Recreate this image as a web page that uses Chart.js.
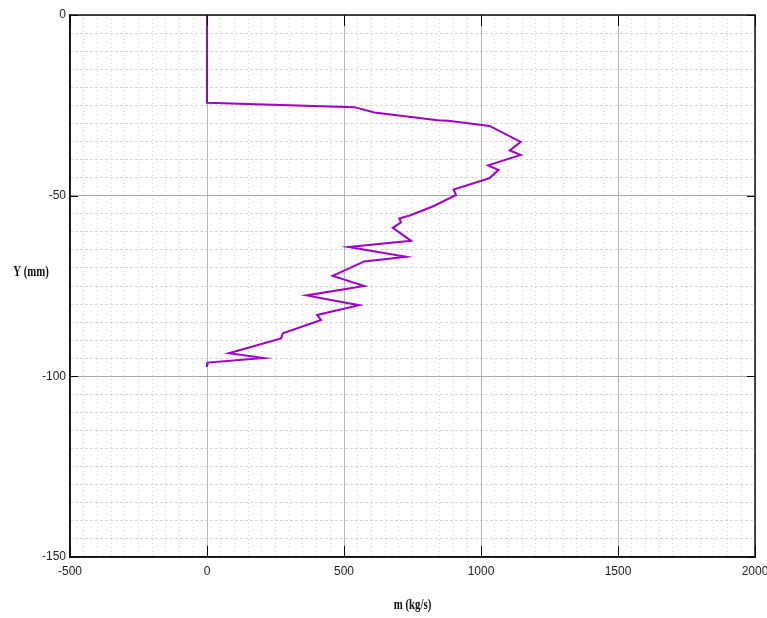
<!DOCTYPE html>
<html>
<head>
<meta charset="utf-8">
<script src="https://cdn.jsdelivr.net/npm/chart.js@4/dist/chart.umd.min.js"></script>
<style>
  html, body { margin: 0; padding: 0; background: #ffffff; }
  #wrap { width: 767px; height: 618px; }
</style>
</head>
<body>
<div id="wrap"><canvas id="c" width="767" height="618"></canvas></div>
<script>
// Mass flow rate m (kg/s) versus depth Y (mm)
const mValues = [0, 0, 538, 611, 842, 880, 1031, 1145, 1105, 1145, 1026, 1064, 1030, 900, 909, 824, 740, 702, 708, 678, 745, 517, 727, 574, 459, 574, 363, 555, 402, 416, 277, 270, 80, 207, 3, 0];
const yValues = [0, -24.3, -25.5, -27.0, -29.1, -29.3, -30.7, -35.1, -37.5, -38.7, -41.6, -42.9, -45.2, -48.3, -49.8, -53.0, -55.5, -56.3, -57.4, -58.9, -62.5, -64.2, -66.9, -68.2, -72.2, -75.0, -77.6, -80.3, -83.0, -84.4, -88.1, -89.5, -93.6, -94.9, -96.2, -97.4];

const xRange = [-500, 2000];
const yRange = [-150, 0];
const xMajorStep = 500, xMinorStep = 50;
const yMajorStep = 50, yMinorStep = 5;
const xTitle = 'm (kg/s)';
const yTitle = 'Y (mm)';

const points = mValues.map((v, i) => ({ x: v, y: yValues[i] }));

const framePlugin = {
  id: 'frame',
  afterDraw(chart) {
    const ctx = chart.ctx;
    const a = chart.chartArea;
    const xs = chart.scales.x, ys = chart.scales.y;
    ctx.save();
    // inner tick marks
    ctx.strokeStyle = '#000';
    ctx.lineWidth = 1;
    ctx.beginPath();
    for (let v = xRange[0]; v <= xRange[1]; v += xMajorStep) {
      const px = Math.round(xs.getPixelForValue(v)) + 0.5;
      ctx.moveTo(px, a.bottom); ctx.lineTo(px, a.bottom - 11);
      ctx.moveTo(px, a.top); ctx.lineTo(px, a.top + 11);
    }
    for (let v = yRange[0]; v <= yRange[1]; v += yMajorStep) {
      const py = Math.round(ys.getPixelForValue(v)) + 0.5;
      ctx.moveTo(a.left, py); ctx.lineTo(a.left + 8, py);
      ctx.moveTo(a.right, py); ctx.lineTo(a.right - 8, py);
    }
    ctx.stroke();
    // frame
    ctx.lineWidth = 1.5;
    ctx.strokeStyle = '#111';
    ctx.strokeRect(a.left, a.top, a.right - a.left, a.bottom - a.top);
    // axis titles (horizontal, condensed serif)
    ctx.fillStyle = '#111';
    ctx.font = 'bold 15px "Liberation Serif"';
    ctx.textAlign = 'center';
    ctx.textBaseline = 'middle';
    ctx.save();
    ctx.translate((a.left + a.right) / 2, 605);
    ctx.scale(0.72, 1);
    ctx.fillText(xTitle, 0, 0);
    ctx.restore();
    ctx.save();
    ctx.translate(31, 272);
    ctx.scale(0.72, 1);
    ctx.fillText(yTitle, 0, 0);
    ctx.restore();
    ctx.restore();
  }
};

const plainLabel = v => String(v);

new Chart(document.getElementById('c'), {
  type: 'scatter',
  data: {
    datasets: [{
      data: points,
      showLine: true,
      borderColor: '#a000c4',
      backgroundColor: '#a000c4',
      borderWidth: 2,
      pointRadius: 0,
      tension: 0,
      fill: false
    }]
  },
  options: {
    responsive: false,
    devicePixelRatio: 1,
    animation: false,
    layout: { padding: { top: 15, right: 12, left: 0, bottom: 0 } },
    plugins: { legend: { display: false }, tooltip: { enabled: false } },
    scales: {
      x: {
        type: 'linear', position: 'bottom',
        min: xRange[0], max: xRange[1],
        afterFit: s => { s.height = 61; s.paddingLeft = 0; s.paddingRight = 0; },
        ticks: { stepSize: xMajorStep, color: '#222', padding: 7, callback: plainLabel,
                 font: { family: '"Liberation Sans Narrow", "Liberation Sans"', size: 12 } },
        grid: { color: '#b8b8b8', lineWidth: 1, drawTicks: false, z: -1 },
        border: { display: true, color: '#111', width: 1.5 }
      },
      y: {
        type: 'linear', position: 'left',
        min: yRange[0], max: yRange[1],
        afterFit: s => { s.width = 70; s.paddingTop = 0; s.paddingBottom = 0; },
        ticks: { stepSize: yMajorStep, color: '#222', padding: 4, callback: plainLabel,
                 font: { family: '"Liberation Sans Narrow", "Liberation Sans"', size: 12 } },
        grid: { color: '#a8a8a8', lineWidth: 1, drawTicks: false, z: -1 },
        border: { display: true, color: '#111', width: 1.5 }
      },
      xMinor: {
        type: 'linear', position: 'top',
        min: xRange[0], max: xRange[1],
        afterFit: s => { s.height = 0; s.paddingLeft = 0; s.paddingRight = 0; },
        ticks: { display: false, stepSize: xMinorStep },
        grid: { color: '#d2d2d2', lineWidth: 1, drawTicks: false, z: -2 },
        border: { display: false, dash: [1, 3] }
      },
      yMinor: {
        type: 'linear', position: 'right',
        min: yRange[0], max: yRange[1],
        afterFit: s => { s.width = 0; s.paddingTop = 0; s.paddingBottom = 0; },
        ticks: { display: false, stepSize: yMinorStep },
        grid: { color: '#d6d6d6', lineWidth: 1, drawTicks: false, z: -2 },
        border: { display: false, dash: [3, 2] }
      }
    }
  },
  plugins: [framePlugin]
});
</script>
</body>
</html>
